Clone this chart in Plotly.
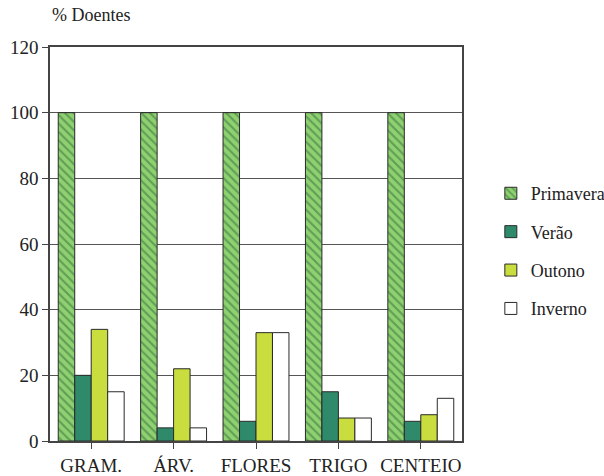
import plotly.graph_objects as go

categories = ["GRAM.", "ÁRV.", "FLORES", "TRIGO", "CENTEIO"]
primavera = [100, 100, 100, 100, 100]
verao = [20, 4, 6, 15, 6]
outono = [34, 22, 33, 7, 8]
inverno = [15, 4, 33, 7, 13]
y_ticks = [0, 20, 40, 60, 80, 100, 120]

FONT = "Times New Roman"
fig = go.Figure()
series = [
    ("Primavera", primavera, dict(color="#7cc46a", pattern=dict(shape="\\", fgcolor="#2f6b3a", bgcolor="#8fd070", size=6, solidity=0.35))),
    ("Verão", verao, dict(color="#2f8a6c")),
    ("Outono", outono, dict(color="#c9dd3e")),
    ("Inverno", inverno, dict(color="#ffffff")),
]
for name, vals, mk in series:
    mk = dict(mk)
    mk["line"] = dict(color="#2a2a2a", width=1)
    fig.add_trace(go.Bar(x=categories, y=vals, name=name, marker=mk, legendgroup=name))

fig.update_layout(
    width=604, height=476,
    margin=dict(l=50, r=142, t=47, b=35, autoexpand=False),
    paper_bgcolor="white", plot_bgcolor="white",
    barmode="group", bargap=0.2, bargroupgap=0,
    showlegend=True,
    legend=dict(x=1.07, y=0.675, xanchor="left", yanchor="top",
                font=dict(family=FONT, size=18, color="#222"),
                tracegroupgap=12, traceorder="grouped", bgcolor="rgba(0,0,0,0)"),
)
fig.add_annotation(text="% Doentes", xref="paper", yref="paper", x=0.0, y=1.0, yshift=20,
                   xanchor="left", yanchor="bottom", showarrow=False,
                   font=dict(family=FONT, size=18, color="#222"))
fig.update_yaxes(range=[0, 120], tickvals=y_ticks, ticks="outside", ticklen=6,
                 showline=True, linecolor="#444", linewidth=1.5, mirror=True,
                 showgrid=True, gridcolor="#555", gridwidth=1, zeroline=False, automargin=False,
                 tickfont=dict(family=FONT, size=19, color="#222"))
fig.update_xaxes(ticks="outside", ticklen=6, tickcolor="#444", showline=True, linecolor="#444",
                 linewidth=1.5, mirror=True, automargin=False,
                 tickfont=dict(family=FONT, size=19, color="#222"))

fig.write_html("out.html")
